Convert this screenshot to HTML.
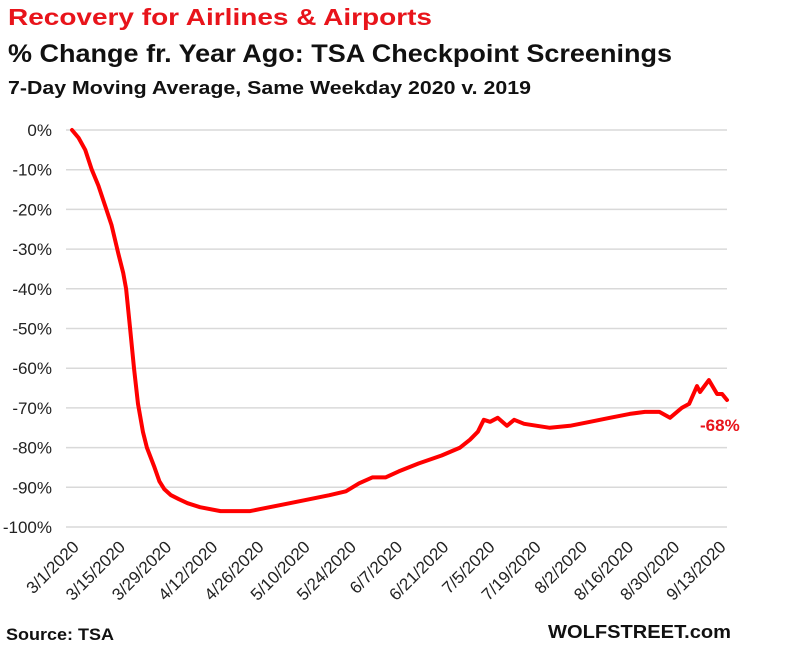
<!DOCTYPE html>
<html><head><meta charset="utf-8"><style>
body{margin:0;background:#fff;width:790px;height:648px;overflow:hidden;font-family:"Liberation Sans",sans-serif}
</style></head><body>
<svg width="790" height="648" xmlns="http://www.w3.org/2000/svg">
<text x="8" y="25" font-size="23" font-weight="bold" fill="#e8141b" textLength="424" lengthAdjust="spacingAndGlyphs">Recovery for Airlines &amp; Airports</text>
<text x="8" y="62" font-size="25" font-weight="bold" fill="#111" textLength="664" lengthAdjust="spacingAndGlyphs">% Change fr. Year Ago: TSA Checkpoint Screenings</text>
<text x="8" y="94" font-size="18" font-weight="bold" fill="#111" textLength="523" lengthAdjust="spacingAndGlyphs">7-Day Moving Average, Same Weekday 2020 v. 2019</text>
<g id="grid"></g><g id="ylab"></g><g id="xlab"></g>
<path id="line" fill="none" stroke="#f00" stroke-width="4" stroke-linejoin="round" stroke-linecap="round"/>
<text x="700" y="431" font-size="17" font-weight="bold" fill="#e8141b">-68%</text>
<text x="6" y="640" font-size="17" font-weight="bold" fill="#111" textLength="108" lengthAdjust="spacingAndGlyphs">Source: TSA</text>
<text x="548" y="638" font-size="18" font-weight="bold" fill="#111" textLength="183" lengthAdjust="spacingAndGlyphs">WOLFSTREET.com</text>
</svg>
<script>
const yTicks=[0,-10,-20,-30,-40,-50,-60,-70,-80,-90,-100];
const xLabels=["3/1/2020","3/15/2020","3/29/2020","4/12/2020","4/26/2020","5/10/2020","5/24/2020","6/7/2020","6/21/2020","7/5/2020","7/19/2020","8/2/2020","8/16/2020","8/30/2020","9/13/2020"];
const days=[0,2,4,6,8,10,12,14,15.5,16.4,17.6,18.8,20,21.5,22.7,25,26.5,28,30,32.4,35,38.8,45,54,57,66,72,78,83,87,91,95,99,105,112,117.6,120.6,123,124.8,126.7,129,131.8,134,137,144.8,150.9,157,163,169,173.6,178,181.2,184.8,187,189.4,190.3,193,195.5,197,198.5];
const pct=[0,-2,-5,-10,-14,-19,-24,-31,-36,-40,-50,-60,-69,-76,-80,-85,-88.5,-90.5,-92,-93,-94,-95,-96,-96,-95.5,-94,-93,-92,-91,-89,-87.5,-87.5,-86,-84,-82,-80,-78,-76,-73,-73.5,-72.5,-74.5,-73,-74,-75,-74.5,-73.5,-72.5,-71.5,-71,-71,-72.5,-70,-69,-64.5,-66,-63,-66.5,-66.5,-68];
const NS="http://www.w3.org/2000/svg";
const X=d=>72+d*3.3, Y=v=>130-v*3.97;
const g=document.getElementById('grid'),yl=document.getElementById('ylab'),xl=document.getElementById('xlab');
yTicks.forEach(t=>{
 const l=document.createElementNS(NS,'line');
 
 
 l.setAttribute('x1',66);l.setAttribute('x2',727);l.setAttribute('y1',Y(t));l.setAttribute('y2',Y(t));
 l.setAttribute('stroke','#d9d9d9');l.setAttribute('stroke-width','1.5');g.appendChild(l);
 const tx=document.createElementNS(NS,'text');
 
 
 tx.setAttribute('x',52);tx.setAttribute('y',Y(t)+6);tx.setAttribute('text-anchor','end');
 tx.setAttribute('font-size','17');tx.setAttribute('fill','#222');tx.textContent=t+'%';yl.appendChild(tx);
});
xLabels.forEach((s,i)=>{
 const x=X(i*14)+8,y=548;
 const tx=document.createElementNS(NS,'text');
 
 
 tx.setAttribute('x',x);tx.setAttribute('y',y);tx.setAttribute('text-anchor','end');
 tx.setAttribute('font-size','17');tx.setAttribute('fill','#222');
 tx.setAttribute('transform','rotate(-45 '+x+' '+y+')');tx.textContent=s;xl.appendChild(tx);
});
document.getElementById('line').setAttribute('d',days.map((d,i)=>(i?'L':'M')+X(d).toFixed(1)+' '+Y(pct[i]).toFixed(1)).join(' '));
</script>
</body></html>
